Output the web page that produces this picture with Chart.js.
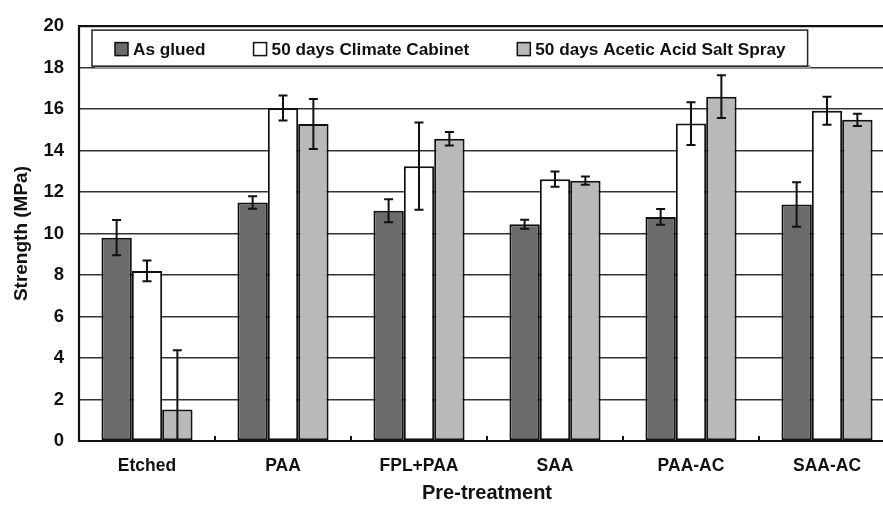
<!DOCTYPE html>
<html>
<head>
<meta charset="utf-8">
<script src="https://cdn.jsdelivr.net/npm/chart.js@4"></script>
<style>
  html, body { margin: 0; padding: 0; background: #fff; overflow: hidden; }
  #wrap { width: 883px; height: 507px; }
</style>
</head>
<body>
<div id="wrap"><canvas id="c" width="883" height="507"></canvas></div>
<script>
// Lap-shear strength by pre-treatment (MPa), mean and +/- spread
const categories = ['Etched', 'PAA', 'FPL+PAA', 'SAA', 'PAA-AC', 'SAA-AC'];
const seriesNames = ['As glued', '50 days Climate Cabinet', '50 days Acetic Acid Salt Spray'];
const asGlued      = [9.8, 11.5, 11.1, 10.45, 10.8, 11.4];
const asGluedErr   = [0.85, 0.3, 0.55, 0.22, 0.38, 1.07];
const climate      = [8.2, 16.05, 13.25, 12.62, 15.3, 15.92];
const climateErr   = [0.5, 0.6, 2.1, 0.37, 1.03, 0.68];
const saltSpray    = [1.52, 15.28, 14.57, 12.55, 16.6, 15.48];
const saltSprayErr = [2.85, 1.2, 0.33, 0.2, 1.03, 0.3];
const yTicks       = [0, 2, 4, 6, 8, 10, 12, 14, 16, 18, 20];

const FONT = "'Liberation Sans', Arial, Helvetica, sans-serif";
const fills = ['#6b6b6b', '#ffffff', '#b9b9b9'];
const AXIS_RIGHT = 895; // category axis runs a little past the canvas edge

// stretch the category axis to the right after Chart.js lays it out
const widenAxis = {
  id: 'widenAxis',
  afterLayout(chart) {
    const x = chart.scales.x;
    x.right = AXIS_RIGHT;
    x.width = x.right - x.left;
    x.configure();
  }
};

// vertical error bars with caps
const errorBars = {
  id: 'errorBars',
  afterDatasetsDraw(chart) {
    const { ctx, chartArea, scales: { y } } = chart;
    ctx.save();
    ctx.beginPath();
    ctx.rect(chartArea.left, chartArea.top, chartArea.right - chartArea.left, chartArea.bottom - chartArea.top);
    ctx.clip();
    ctx.strokeStyle = '#111';
    ctx.lineWidth = 2;
    chart.data.datasets.forEach((ds, di) => {
      const meta = chart.getDatasetMeta(di);
      meta.data.forEach((bar, i) => {
        const v = ds.data[i], e = ds.errors[i];
        const yHi = y.getPixelForValue(v + e);
        const yLo = y.getPixelForValue(v - e);
        const x = bar.x, cap = 4.5;
        ctx.beginPath();
        ctx.moveTo(x, yHi); ctx.lineTo(x, yLo);
        ctx.moveTo(x - cap, yHi); ctx.lineTo(x + cap, yHi);
        ctx.moveTo(x - cap, yLo); ctx.lineTo(x + cap, yLo);
        ctx.stroke();
      });
    });
    ctx.restore();
  }
};

// plot frame (open on the right), category boundary ticks and the boxed legend
const frameAndLegend = {
  id: 'frameAndLegend',
  afterDraw(chart) {
    const { ctx, chartArea: a, scales: { x } } = chart;
    const r = chart.width + 5;
    ctx.save();
    ctx.strokeStyle = '#111';
    ctx.lineWidth = 2.2;
    ctx.beginPath();
    ctx.moveTo(r, a.top);
    ctx.lineTo(a.left, a.top);
    ctx.lineTo(a.left, a.bottom);
    ctx.lineTo(r, a.bottom);
    ctx.stroke();

    // small inward marks between categories
    ctx.lineWidth = 2;
    for (let i = 0; i < categories.length - 1; i++) {
      const bx = (x.getPixelForValue(i) + x.getPixelForValue(i + 1)) / 2;
      ctx.beginPath();
      ctx.moveTo(bx, a.bottom); ctx.lineTo(bx, a.bottom - 5);
      ctx.stroke();
    }

    // legend box
    const bx0 = a.left + 13, by0 = a.top + 4, bh = 36;
    ctx.font = `bold 17.2px ${FONT}`;
    const sw = 13, gapText = 5, gapItem = 48, padL = 23, padR = 22;
    const widths = seriesNames.map(s => ctx.measureText(s).width);
    let total = padL + padR;
    widths.forEach((w, i) => { total += sw + gapText + w + (i < widths.length - 1 ? gapItem : 0); });
    // shadow
    ctx.fillStyle = '#9a9a9a';
    ctx.fillRect(bx0 + 3, by0 + bh - 1, total, 3);
    ctx.fillStyle = '#fff';
    ctx.fillRect(bx0, by0, total, bh);
    ctx.strokeStyle = '#222';
    ctx.lineWidth = 1.5;
    ctx.strokeRect(bx0, by0, total, bh);

    let cx = bx0 + padL;
    const cy = by0 + bh / 2 + 1;
    ctx.textBaseline = 'middle';
    ctx.textAlign = 'left';
    seriesNames.forEach((s, i) => {
      ctx.fillStyle = fills[i];
      ctx.fillRect(cx, cy - sw / 2, sw, sw);
      ctx.strokeStyle = '#111';
      ctx.lineWidth = 1.5;
      ctx.strokeRect(cx, cy - sw / 2, sw, sw);
      cx += sw + gapText;
      ctx.fillStyle = '#111';
      ctx.fillText(s, cx, cy + 1);
      cx += widths[i] + gapItem;
    });
    ctx.restore();
  }
};

const errSets = [asGluedErr, climateErr, saltSprayErr];
const valSets = [asGlued, climate, saltSpray];

new Chart(document.getElementById('c'), {
  type: 'bar',
  data: {
    labels: categories,
    datasets: seriesNames.map((name, i) => ({
      label: name,
      data: valSets[i],
      errors: errSets[i],
      backgroundColor: fills[i],
      borderColor: '#111',
      borderWidth: 2,
      borderSkipped: false
    }))
  },
  options: {
    responsive: false,
    animation: false,
    devicePixelRatio: 1,
    layout: { padding: { left: 0, top: 21, right: 0, bottom: 0 } },
    categoryPercentage: 0.67,
    barPercentage: 1.0,
    plugins: {
      legend: { display: false },
      tooltip: { enabled: false }
    },
    scales: {
      x: {
        grid: { display: false, drawTicks: false },
        border: { display: false },
        ticks: {
          color: '#111',
          font: { family: FONT, size: 17.5, weight: 'bold' },
          padding: 15,
          maxRotation: 0,
          autoSkip: false
        },
        title: {
          display: true,
          text: 'Pre-treatment',
          color: '#111',
          font: { family: FONT, size: 20, weight: 'bold' },
          padding: { top: 0, bottom: 2 }
        },
        afterFit(scale) { scale.height = 66; }
      },
      y: {
        min: 0,
        max: 20,
        afterBuildTicks(scale) { scale.ticks = yTicks.map(v => ({ value: v })); },
        grid: { color: '#333', lineWidth: 1.6, drawTicks: false },
        border: { display: false },
        ticks: {
          color: '#111',
          font: { family: FONT, size: 18.5, weight: 'bold' },
          padding: 15
        },
        title: {
          display: true,
          text: 'Strength (MPa)',
          color: '#111',
          font: { family: FONT, size: 19, weight: 'bold' },
          padding: { top: 10, bottom: 0 }
        },
        afterFit(scale) { scale.width = 79; }
      }
    }
  },
  plugins: [widenAxis, errorBars, frameAndLegend]
});
</script>
</body>
</html>
